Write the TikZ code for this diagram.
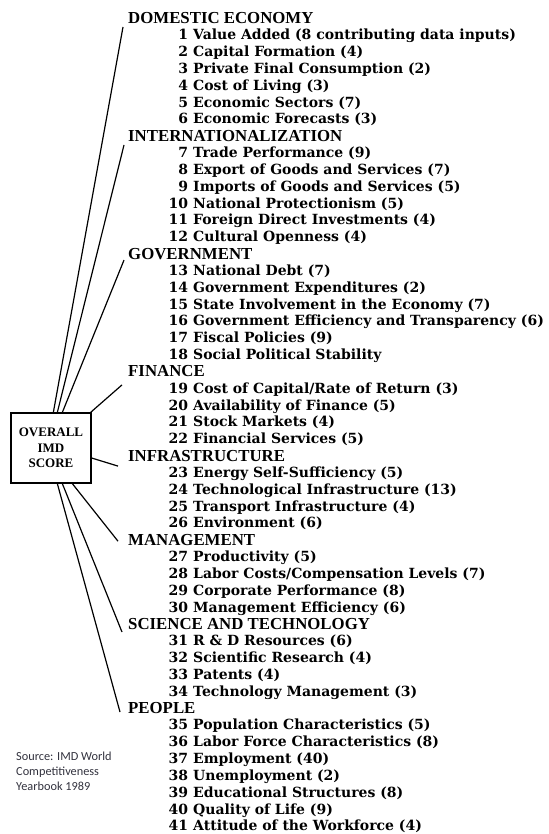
\documentclass[tikz,border=0pt]{standalone}
\usepackage{fontspec}
\setmainfont{Liberation Serif}
\newfontfamily\itemfont{DejaVu Serif}
\newfontfamily\notefont{Carlito}
\usetikzlibrary{calc}
\definecolor{notegray}{RGB}{50,50,62}
\newcommand{\inum}[1]{\makebox[18pt][r]{#1}\hspace{5pt}}

\begin{document}
\begin{tikzpicture}[x=1pt,y=-1pt,
  heading/.style={anchor=base west,inner sep=0pt,font=\bfseries\fontsize{16.8}{18}\selectfont},
  item/.style={anchor=base west,inner sep=0pt,font=\itemfont\bfseries\fontsize{14}{16}\selectfont},
  conn/.style={line width=1.2pt}]
\useasboundingbox (0,0) rectangle (548,834);

% Overall score box
\node[draw,line width=1.3pt,minimum width=80pt,minimum height=70pt,align=center,
  font=\bfseries\fontsize{13}{15.5}\selectfont] (score) at (51,448) {OVERALL\\IMD\\SCORE};

% Factor headings
\node[heading] (dom) at (128,23.5) {DOMESTIC ECONOMY};
\node[heading] (intl) at (128,141.3) {INTERNATIONALIZATION};
\node[heading] (gov) at (128,259.1) {GOVERNMENT};
\node[heading] (fin) at (128,376.9) {FINANCE};
\node[heading] (infra) at (128,461.1) {INFRASTRUCTURE};
\node[heading] (mgmt) at (128,545.2) {MANAGEMENT};
\node[heading] (sci) at (128,629.4) {SCIENCE AND TECHNOLOGY};
\node[heading] (ppl) at (128,713.5) {PEOPLE};

% Criteria under each heading
\foreach \n/\t in {1/Value Added (8 contributing data inputs), 2/Capital Formation (4),
    3/Private Final Consumption (2), 4/Cost of Living (3), 5/Economic Sectors (7),
    6/Economic Forecasts (3)}
  \node[item] (i\n) at (170,{23+16.83*\n}) {\inum{\n}\t};
\foreach \n/\t in {7/Trade Performance (9), 8/Export of Goods and Services (7),
    9/Imports of Goods and Services (5), 10/National Protectionism (5),
    11/Foreign Direct Investments (4), 12/Cultural Openness (4)}
  \node[item] (i\n) at (170,{23+16.83*(\n+1)}) {\inum{\n}\t};
\foreach \n/\t in {13/National Debt (7), 14/Government Expenditures (2),
    15/State Involvement in the Economy (7), 16/Government Efficiency and Transparency (6),
    17/Fiscal Policies (9), 18/Social Political Stability}
  \node[item] (i\n) at (170,{23+16.83*(\n+2)}) {\inum{\n}\t};
\foreach \n/\t in {19/{Cost of Capital/Rate of Return (3)}, 20/Availability of Finance (5),
    21/Stock Markets (4), 22/Financial Services (5)}
  \node[item] (i\n) at (170,{23+16.83*(\n+3)}) {\inum{\n}\t};
\foreach \n/\t in {23/Energy Self-Sufficiency (5), 24/Technological Infrastructure (13),
    25/Transport Infrastructure (4), 26/Environment (6)}
  \node[item] (i\n) at (170,{23+16.83*(\n+4)}) {\inum{\n}\t};
\foreach \n/\t in {27/Productivity (5), 28/{Labor Costs/Compensation Levels (7)},
    29/Corporate Performance (8), 30/Management Efficiency (6)}
  \node[item] (i\n) at (170,{23+16.83*(\n+5)}) {\inum{\n}\t};
\foreach \n/\t in {31/R \& D Resources (6), 32/Scientific Research (4),
    33/Patents (4), 34/Technology Management (3)}
  \node[item] (i\n) at (170,{23+16.83*(\n+6)}) {\inum{\n}\t};
\foreach \n/\t in {35/Population Characteristics (5), 36/Labor Force Characteristics (8),
    37/Employment (40), 38/Unemployment (2), 39/Educational Structures (8),
    40/Quality of Life (9), 41/Attitude of the Workforce (4)}
  \node[item] (i\n) at (170,{23+16.83*(\n+7)}) {\inum{\n}\t};

% Lines from the box to the headings
\draw[conn] ($(score.north west)+(43,0)$) -- ($(dom.base west)+(-5,3.5)$);
\draw[conn] ($(score.north west)+(47,0)$) -- ($(intl.base west)+(-4,3.7)$);
\draw[conn] ($(score.north west)+(52,0)$) -- ($(gov.base west)+(-4,1)$);
\draw[conn] ($(score.north east)+(-1,0)$) -- ($(fin.base west)+(-6,8)$);
\draw[conn] ($(score.east)+(0,10)$) -- ($(infra.base west)+(-10,5)$);
\draw[conn] ($(score.south west)+(62,0)$) -- ($(mgmt.base west)+(-10,-4)$);
\draw[conn] ($(score.south west)+(52,0)$) -- ($(sci.base west)+(-6,2.6)$);
\draw[conn] ($(score.south west)+(47,0)$) -- ($(ppl.base west)+(-8,-1.5)$);

% Source note
\node[anchor=north west,inner sep=0pt,align=left,text=notegray,
  font=\notefont\fontsize{12.3}{15}\selectfont] (src) at (16,752)
  {Source: IMD World\\Competitiveness\\Yearbook 1989};
\end{tikzpicture}
\end{document}
